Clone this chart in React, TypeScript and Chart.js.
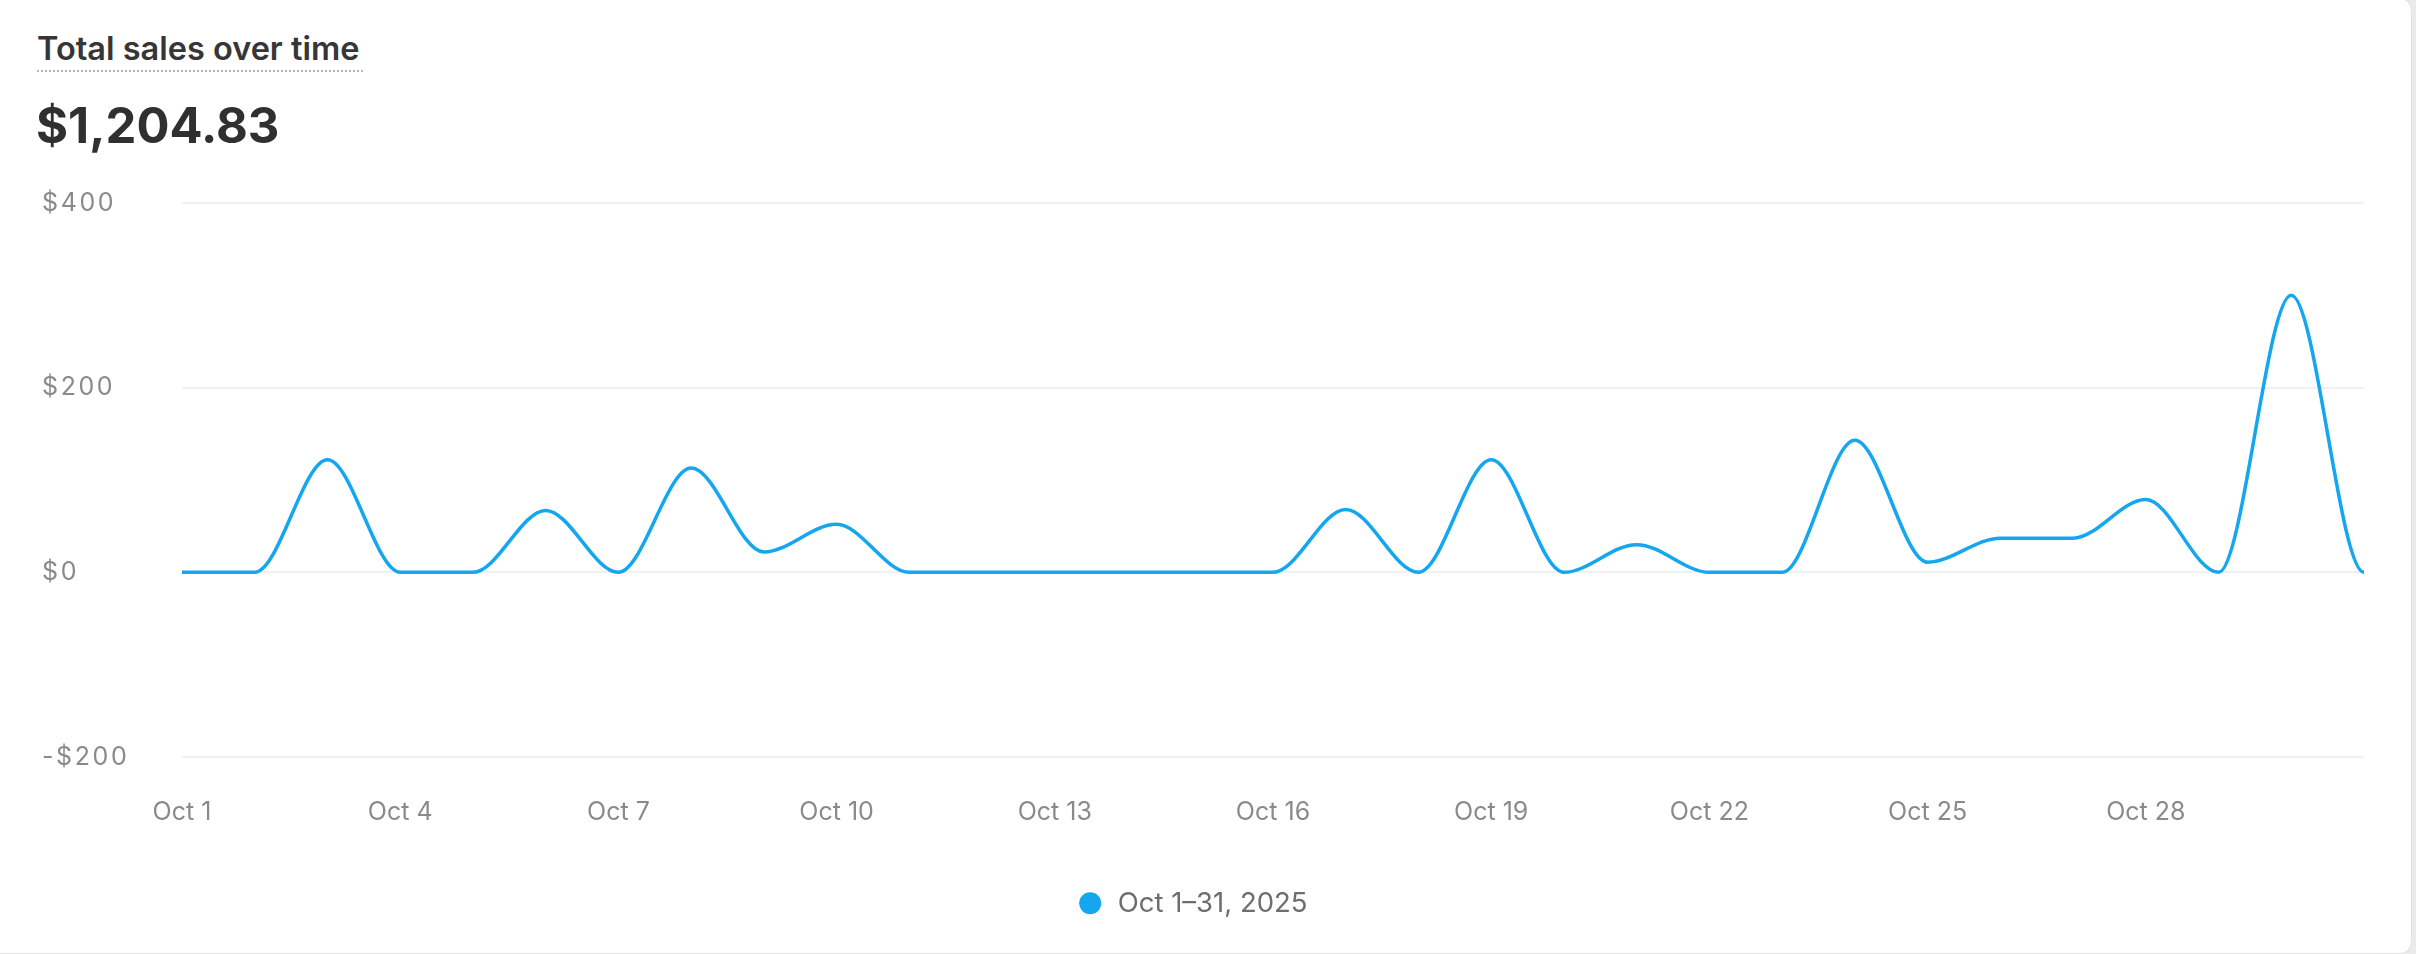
import React, { useEffect, useRef } from 'react';
import { Chart, registerables } from 'chart.js';

Chart.register(...registerables);

const dayLabels: string[] = [
  'Oct 1', 'Oct 2', 'Oct 3', 'Oct 4', 'Oct 5', 'Oct 6', 'Oct 7', 'Oct 8', 'Oct 9', 'Oct 10',
  'Oct 11', 'Oct 12', 'Oct 13', 'Oct 14', 'Oct 15', 'Oct 16', 'Oct 17', 'Oct 18', 'Oct 19', 'Oct 20',
  'Oct 21', 'Oct 22', 'Oct 23', 'Oct 24', 'Oct 25', 'Oct 26', 'Oct 27', 'Oct 28', 'Oct 29', 'Oct 30',
  'Oct 31',
];

// Labels shown on the x axis
const shownTickLabels: string[] = [
  'Oct 1', 'Oct 4', 'Oct 7', 'Oct 10', 'Oct 13', 'Oct 16', 'Oct 19', 'Oct 22', 'Oct 25', 'Oct 28',
];

const salesValues: number[] = [
  0, 0, 122, 0, 0, 67, 0, 113, 22, 52,
  0, 0, 0, 0, 0, 0, 68, 0, 122, 0,
  30, 0, 0, 143, 11, 37, 37, 79, 0, 300,
  0,
];

// The curve flattens into the right edge, as if continuing to a zero next day (clipped, off-axis)
const trailingLabel = 'Nov 1';
const trailingValue = 0;

const seriesLabel = 'Oct 1–31, 2025';
const chartTitle = 'Total sales over time';
const totalLabel = '$1,204.83';
const yMin = -200;
const yMax = 400;
const yStep = 200;

const LINE_COLOR = '#14a6ef';
const FONT = 'Inter, "Noto Sans", sans-serif';

const legendShift = {
  id: 'legendShift',
  afterLayout(chart: any) {
    const lg = chart.legend;
    if (lg) {
      lg.left -= 11;
      lg.right -= 11;
    }
  },
};

export default function App() {
  const canvasRef = useRef<HTMLCanvasElement | null>(null);

  useEffect(() => {
    let chart: Chart | null = null;
    let cancelled = false;
    const make = () => {
      if (cancelled || !canvasRef.current) return;
      chart = new Chart(canvasRef.current, {
        type: 'line',
        data: {
          labels: [...dayLabels, trailingLabel],
          datasets: [
            {
              label: seriesLabel,
              data: [...salesValues, trailingValue],
              borderColor: LINE_COLOR,
              backgroundColor: LINE_COLOR,
              pointBackgroundColor: LINE_COLOR,
              pointBorderWidth: 0,
              borderWidth: 3.5,
              pointRadius: 0,
              pointHoverRadius: 0,
              cubicInterpolationMode: 'monotone',
              fill: false,
            },
          ],
        },
        plugins: [legendShift],
        options: {
          animation: false,
          responsive: true,
          maintainAspectRatio: false,
          layout: { padding: { top: 203, left: 42, right: 46, bottom: 27 } },
          plugins: {
            tooltip: { enabled: false },
            legend: {
              display: true,
              position: 'bottom',
              align: 'center',
              labels: {
                usePointStyle: true,
                pointStyle: 'circle',
                boxHeight: 15.6,
                padding: 10,
                color: '#6e6e6e',
                font: { family: FONT, size: 27.5 },
              },
            },
          },
          scales: {
            x: {
              type: 'category',
              min: dayLabels[0],
              max: dayLabels[dayLabels.length - 1],
              offset: false,
              grid: { display: false, drawTicks: false },
              border: { display: false },
              ticks: {
                autoSkip: false,
                maxRotation: 0,
                minRotation: 0,
                padding: 40,
                color: '#8a8a8a',
                font: { family: FONT, size: 25 },
                callback: function (this: any, v: any) {
                  const lab = this.getLabelForValue(v);
                  return shownTickLabels.includes(lab) ? lab : null;
                },
              },
              afterFit: (s: any) => {
                s.height = 122.5;
              },
            },
            y: {
              min: yMin,
              max: yMax,
              grid: { color: '#f1f1f1', lineWidth: 2, drawTicks: false },
              border: { display: false },
              ticks: {
                stepSize: yStep,
                crossAlign: 'far',
                color: '#8a8a8a',
                font: { family: FONT, size: 25 },
                callback: (v: any) => (Number(v) < 0 ? '-$' + Math.abs(Number(v)) : '$' + v),
              },
              afterFit: (s: any) => {
                s.width = 140;
                if (!s.__spaced) {
                  const orig = s.drawLabels.bind(s);
                  s.drawLabels = (area: any) => {
                    const ctx: any = s.ctx;
                    const prev = ctx.letterSpacing;
                    ctx.letterSpacing = '2.6px';
                    orig(area);
                    ctx.letterSpacing = prev || '0px';
                  };
                  s.__spaced = true;
                }
              },
            },
          },
        },
      });
    };
    if ((document as any).fonts && (document as any).fonts.load) {
      Promise.all([
        (document as any).fonts.load('25px Inter'),
        (document as any).fonts.load('600 32px Inter'),
        (document as any).fonts.load('700 49px Inter'),
      ]).then(make, make);
    } else {
      make();
    }
    return () => {
      cancelled = true;
      if (chart) chart.destroy();
    };
  }, []);

  return (
    <div style={{ position: 'fixed', left: 0, top: 0, width: 2416, height: 954, background: '#ebebeb', overflow: 'hidden' }}>
      <div
        style={{
          position: 'absolute',
          left: -14,
          top: -2,
          width: 2424,
          height: 954,
          background: '#ffffff',
          border: '1px solid #e0e0e0',
          borderRadius: 12,
        }}
      />
      <div
        style={{
          position: 'absolute',
          left: 37,
          top: 32.6,
          fontFamily: FONT,
          fontWeight: 600,
          fontSize: 32.5,
          lineHeight: '32.5px',
          color: '#363636',
          whiteSpace: 'nowrap',
        }}
      >
        {chartTitle}
      </div>
      <div style={{ position: 'absolute', left: 37, top: 70, width: 326, height: 0, borderTop: '2px dotted #b5b5b5' }} />
      <div
        style={{
          position: 'absolute',
          left: 36,
          top: 101,
          fontFamily: FONT,
          fontWeight: 700,
          fontSize: 49,
          lineHeight: '49px',
          color: '#303030',
          whiteSpace: 'nowrap',
        }}
      >
        {totalLabel}
      </div>
      <div style={{ position: 'absolute', left: 0, top: 0, width: 2410, height: 954 }}>
        <canvas ref={canvasRef} />
      </div>
    </div>
  );
}
